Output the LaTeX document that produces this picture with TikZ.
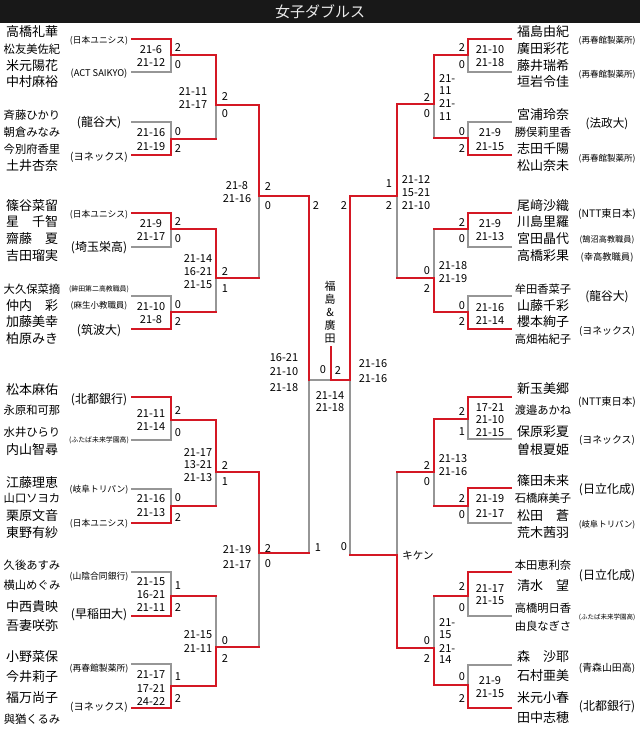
\documentclass[tikz,border=0pt]{standalone}
\usepackage{fontspec}
\setmainfont{Noto Sans CJK JP}
\definecolor{rd}{RGB}{212,24,36}
\definecolor{gy}{RGB}{150,150,150}
\definecolor{bar}{RGB}{24,24,24}
\begin{document}
\begin{tikzpicture}[x=1pt,y=-1pt,
  R/.style={draw=rd,line width=2pt,line cap=rect},
  G/.style={draw=gy,line width=2pt,line cap=rect},
  nmL/.style={font=\fontsize{13}{13}\selectfont,inner sep=0pt},
  nmS/.style={font=\fontsize{11.3}{11.3}\selectfont,inner sep=0pt},
  sc/.style={font=\fontsize{11}{11}\selectfont,inner sep=0pt},
  ttl/.style={font=\fontsize{15}{15}\selectfont,text=white!92!black,inner sep=0pt}]
\useasboundingbox (0,0) rectangle (640,748);
\fill[white] (0,0) rectangle (640,748);
\fill[bar] (0,0) rectangle (640,23);
\node[ttl] (title) at (320,11.5) {女子ダブルス};

% ---------- grey segments ----------
\foreach \y in {72,122,247,296,440,489,572,664} \draw[G] (132,\y) -- (171,\y);
\foreach \y in {72,122,247,296,439,523,616,665} \draw[G] (468,\y) -- (511,\y);
\foreach \x/\a/\b in {171/55/72,171/122/139,171/229/247,171/296/312,171/420/440,171/489/506,171/572/596,171/664/686,
  216/105/139,216/278/312,216/472/506,216/596/647,
  259/196/278,259/553/647,
  309/380/553,350/380/555,
  397/196/278,397/472/555,
  434/104/138,434/229/278,434/472/506,434/596/648,
  468/55/72,468/122/138,468/229/247,468/296/312,468/419/439,468/506/523,468/596/616,468/665/685}
  \draw[G] (\x,\a) -- (\x,\b);
\draw[G] (309,380) -- (331,380);

% ---------- red segments ----------
\foreach \y in {39,155,213,329,397,523,616,708} \draw[R] (132,\y) -- (171,\y);
\foreach \y in {39,155,213,329,397,488,572,708} \draw[R] (468,\y) -- (511,\y);
\foreach \x/\a/\b in {171/39/55,171/139/155,171/213/229,171/312/329,171/397/420,171/506/523,171/596/616,171/686/708,
  216/55/105,216/229/278,216/420/472,216/647/686,
  259/105/196,259/472/553,
  309/196/380,350/196/380,
  397/104/196,397/555/648,
  434/55/104,434/278/312,434/419/472,434/648/685,
  468/39/55,468/138/155,468/213/229,468/312/329,468/397/419,468/488/506,468/572/596,468/685/708}
  \draw[R] (\x,\a) -- (\x,\b);
\foreach \y in {55,139,229,312,420,506,596,686} \draw[R] (171,\y) -- (216,\y);
\foreach \y in {105,278,472,647} \draw[R] (216,\y) -- (259,\y);
\foreach \y in {196,553} \draw[R] (259,\y) -- (309,\y);
\foreach \y in {196,555} \draw[R] (350,\y) -- (397,\y);
\foreach \y in {104,278,472,648} \draw[R] (397,\y) -- (434,\y);
\foreach \y in {55,138,229,312,419,506,596,685} \draw[R] (434,\y) -- (468,\y);
\draw[R] (331,380) -- (350,380);
\draw[R] (331,347) -- (331,380);

% ---------- names ----------
\foreach \t/\y in {高橋礼華/32,米元陽花/66,中村麻裕/82,土井杏奈/166,篠谷菜留/206,星　千智/222,齋藤　夏/239,吉田瑠実/256,
  仲内　彩/306,加藤美幸/322,柏原みき/339,松本麻佑/390,内山智尋/450,江藤理恵/483,栗原文音/516,東野有紗/533,
  中西貴映/607,吾妻咲弥/626,小野菜保/657,今井莉子/677,福万尚子/698}
  \node[nmL] (nl\y) at (32,\y) {\t};
\foreach \t/\y in {松友美佐紀/49,斉藤ひかり/115,朝倉みなみ/132,今別府香里/149,大久保菜摘/289,永原和可那/410,
  水井ひらり/432,山口ソヨカ/498,久後あすみ/565,横山めぐみ/585,與猶くるみ/719}
  \node[nmS] (nl\y) at (32,\y) {\t};
\foreach \t/\y in {福島由紀/32,廣田彩花/49,藤井瑞希/66,垣岩令佳/82,宮浦玲奈/115,志田千陽/149,松山奈未/166,
  尾﨑沙織/206,川島里羅/222,宮田晶代/239,高橋彩果/256,山藤千彩/306,櫻本絢子/322,新玉美郷/389,保原彩夏/432,
  曽根夏姫/450,篠田未来/481,松田　蒼/516,荒木茜羽/533,清水　望/586,森　沙耶/657,石村亜美/676,米元小春/698,田中志穂/718}
  \node[nmL] (nr\y) at (543,\y) {\t};
\foreach \t/\y in {勝俣莉里香/132,牟田香菜子/289,高畑祐紀子/339,渡邉あかね/410,石橋麻美子/498,本田恵利奈/565,
  高橋明日香/608,由良なぎさ/626}
  \node[nmS] (nr\y) at (543,\y) {\t};

% ---------- affiliations ----------
\foreach \t/\y/\fz in {{(日本ユニシス)}/41/8.7,{(ACT SAIKYO)}/74/9.3,{(龍谷大)}/123/12,{(ヨネックス)}/157/10.2,
  {(日本ユニシス)}/215/8.7,{(埼玉栄高)}/248/12,{(鉾田第二高教職員)}/289/6.9,{(麻生小教職員)}/306/8.5,{(筑波大)}/331/12,
  {(北都銀行)}/400/12,{(ふたば未来学園高)}/440/6.9,{(岐阜トリパン)}/490/8.7,{(日本ユニシス)}/524/8.7,
  {(山陰合同銀行)}/577/8.8,{(早稲田大)}/615/12,{(再春館製薬所)}/669/8.8,{(ヨネックス)}/707/10.2}
  \node[inner sep=0pt,font=\fontsize{\fz}{\fz}\selectfont] (al\y) at (99,\y) {\t};
\foreach \t/\y/\fz in {{(再春館製薬所)}/41/8.5,{(再春館製薬所)}/75/8.5,{(法政大)}/124/11.6,{(再春館製薬所)}/159/8.5,
  {(NTT東日本)}/214/10.3,{(鵠沼高教職員)}/240/8.2,{(幸高教職員)}/257/9.3,{(龍谷大)}/297/11.8,{(ヨネックス)}/331/9.9,
  {(NTT東日本)}/402/10.3,{(ヨネックス)}/440/9.9,{(日立化成)}/490/12,{(岐阜トリパン)}/525/8.4,
  {(日立化成)}/576/12,{(ふたば未来学園高)}/617/6.5,{(青森山田高)}/668/9.9,{(北都銀行)}/707/12}
  \node[inner sep=0pt,font=\fontsize{\fz}{\fz}\selectfont] (ar\y) at (607,\y) {\t};

% ---------- scores (game scores) ----------
\foreach \t/\x/\y in {21-6/151/50,21-12/151/63,21-16/151/133,21-19/151/147,21-9/151/224,21-17/151/237,
  21-10/151/307,21-8/151/320,21-11/151/413,21-14/151/426,21-16/151/499,21-13/151/513,
  21-15/151/582,16-21/151/595,21-11/151/607,21-17/151/674,17-21/151/688,24-22/151/701,
  21-11/193/92,21-17/193/105,21-14/198/258,16-21/198/272,21-15/198/285,
  21-17/198/452,13-21/198/465,21-13/198/478,21-15/198/635,21-11/198/648,
  21-8/237/186,21-16/237/199,21-19/237/550,21-17/237/564,
  16-21/284/358,21-10/284/372,21-18/284/388,
  21-14/330/395,21-18/330/408,
  21-16/373/364,21-16/373/379,
  21-12/416/180,15-21/416/193,21-10/416/206,
  21-18/453/266,21-19/453/279,21-13/453/459,21-16/453/472,
  21-10/490/50,21-18/490/63,21-9/490/133,21-15/490/147,21-9/490/224,21-13/490/237,
  21-16/490/308,21-14/490/320,17-21/490/407,21-10/490/420,21-15/490/433,
  21-19/490/499,21-17/490/513,21-17/490/588,21-15/490/601,21-9/490/681,21-15/490/694}
  \node[sc] (s\x-\y) at (\x,\y) {\t};
\foreach \t/\y in {21-/79,11/91,21-/104,11/117,21-/622,15/635,21-/648,14/660}
  \node[sc,anchor=west] (sw\y) at (439,\y) {\t};
\node[sc,font=\fontsize{10.5}{10.5}\selectfont] (kiken) at (418,556) {キケン};

% ---------- game counts ----------
\foreach \t/\x/\y in {2/178/48,0/178/65,0/178/132,2/178/149,2/178/222,0/178/239,0/178/305,2/178/322,
  2/178/410,0/178/433,0/178/498,2/178/517,1/178/586,2/178/607,1/178/677,2/178/698,
  2/225/97,0/225/114,2/225/272,1/225/289,2/225/465,1/225/482,0/225/641,2/225/658,
  2/268/187,0/268/206,2/268/548,0/268/564,
  2/316/206,1/318/548,0/323/370,2/338/370,2/344/206,0/344/547,
  1/389/184,2/389/206,
  2/427/98,0/427/114,0/427/271,2/427/289,2/427/465,0/427/482,0/427/641,2/427/658,
  2/462/48,0/462/65,0/462/132,2/462/149,2/462/223,0/462/239,0/462/306,2/462/322,
  2/462/411,1/462/432,2/462/498,0/462/515,2/462/586,0/462/608,0/462/677,2/462/698}
  \node[sc] (c\x-\y) at (\x,\y) {\t};

% ---------- champion ----------
\node[inner sep=0pt,font=\fontsize{11}{13}\selectfont,align=center] (champ) at (330,312) {福\\島\\\&\\廣\\田};
\end{tikzpicture}
\end{document}
